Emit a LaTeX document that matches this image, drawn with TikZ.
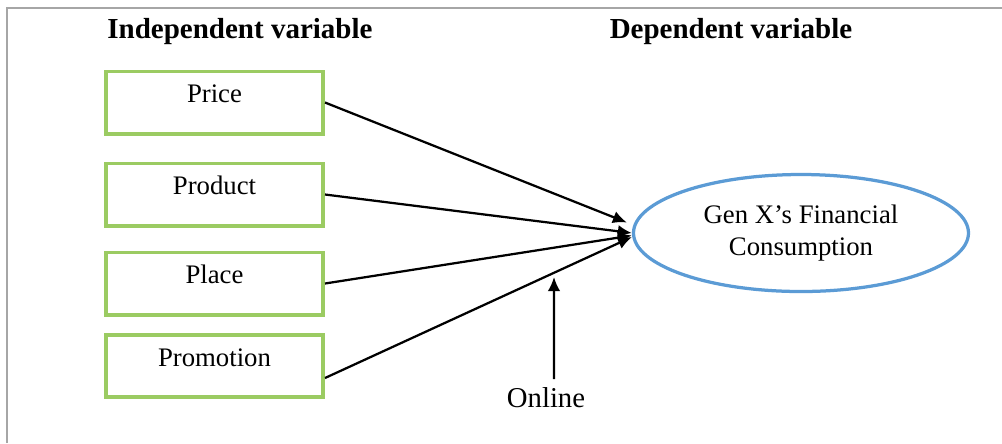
\documentclass[tikz,border=0pt]{standalone}
\usepackage{fontspec}
\setmainfont{Liberation Serif}
\usetikzlibrary{arrows.meta,shapes.geometric}
\definecolor{boxgreen}{HTML}{9BCB62}
\definecolor{ellblue}{HTML}{5B9BD5}
\definecolor{framegray}{HTML}{A6A6A6}

\begin{document}
\begin{tikzpicture}[x=0.4pt,y=-0.4pt,
    varbox/.style={draw=boxgreen,line width=1.5pt,minimum width=86.9pt,inner sep=0pt,
      text height=12.45pt,text depth=12.45pt,font=\fontsize{10.7}{13}\selectfont},
    head/.style={font=\bfseries\fontsize{11.6}{14}\selectfont},
    link/.style={-{Latex[length=5.6pt,width=5pt]},line width=0.9pt}]
  \useasboundingbox (0,0) rectangle (1002,443);
  \draw[framegray,line width=0.9pt] (7,443) -- (7,8) -- (1002,8);

  \node[head] (indep) at (240,32) {Independent variable};
  \node[head] (dep) at (731,32) {Dependent variable};

  \node[varbox] (price) at (214.5,102.5) {Price};
  \node[varbox] (product) at (214.5,194.5) {Product};
  \node[varbox] (place) at (214.5,283.5) {Place};
  \node[varbox] (promo) at (214.5,366) {Promotion};

  \node[ellipse,draw=ellblue,line width=1.3pt,minimum width=134pt,minimum height=46.8pt,
    inner sep=0pt,align=center,font=\fontsize{10.7}{12.8}\selectfont] (genx) at (801,233)
    {Gen X’s Financial\\Consumption};

  \node[font=\fontsize{11.5}{14}\selectfont] (online) at (546,398) {Online};
  \coordinate (ontip) at (554,277);

  \draw[link] (price.east) -- ([xshift=-2pt,yshift=4.2pt]genx.west);
  \draw[link] (product.east) -- (genx.west);
  \draw[link] (place.east) -- ([yshift=-1pt]genx.west);
  \draw[link] ([yshift=-4.8pt]promo.east) -- ([yshift=-1.6pt]genx.west);
  \draw[link] ([xshift=3.2pt]online.north) -- (ontip);
\end{tikzpicture}
\end{document}
